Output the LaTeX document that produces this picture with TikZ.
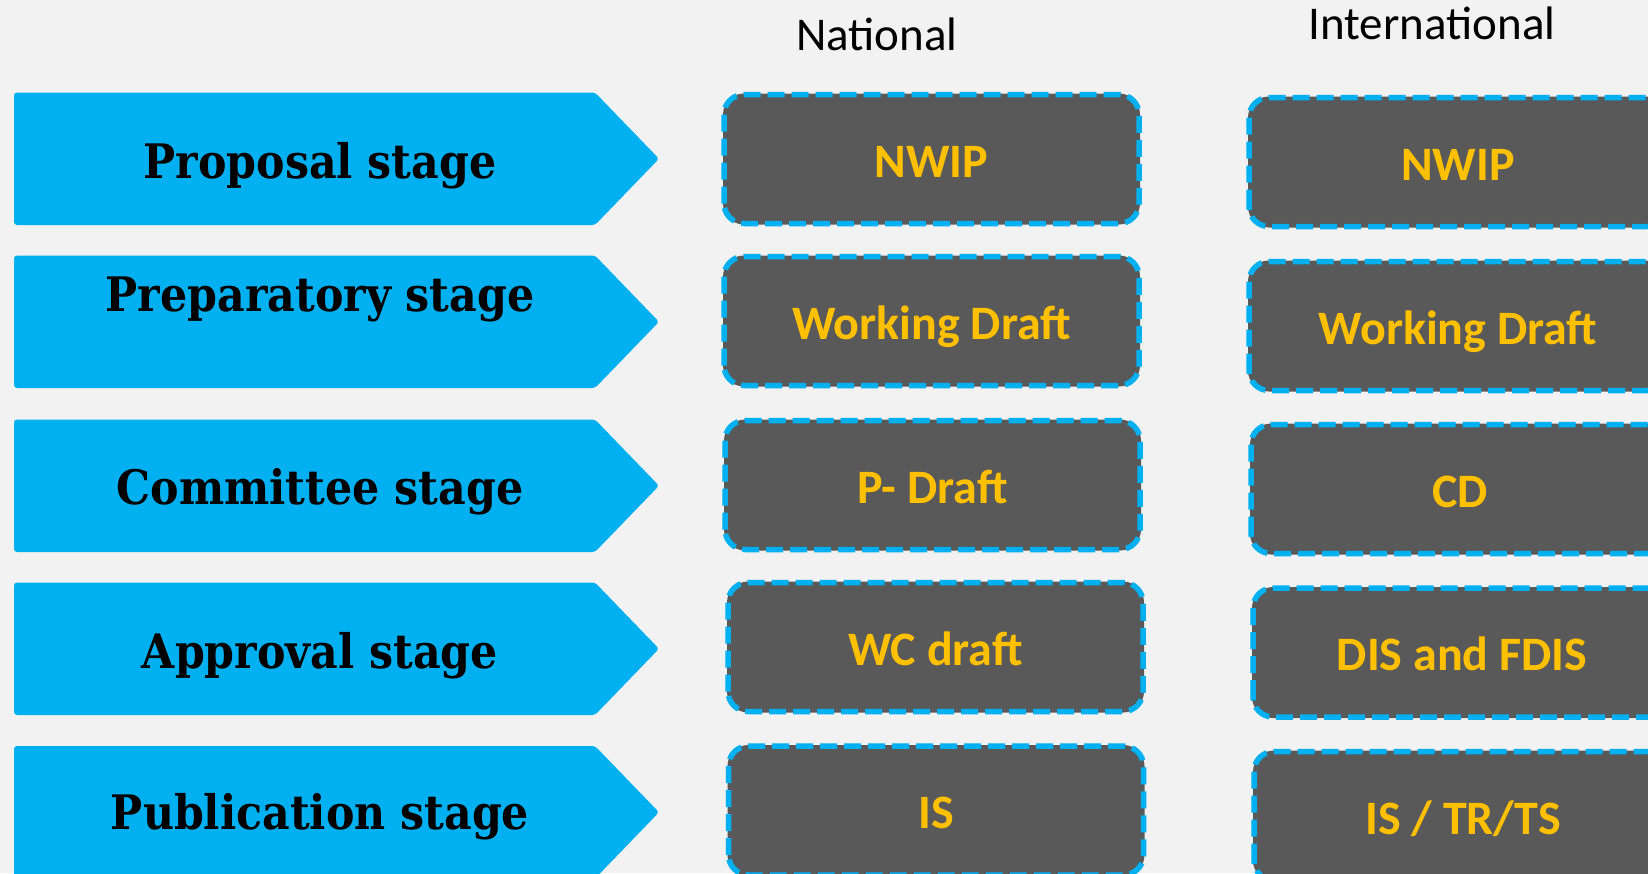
\documentclass[tikz,border=0pt]{standalone}
\usepackage{fontspec}
\newfontfamily\carlito{Carlito}
\newfontfamily\stagefont{DejaVu Serif Condensed}
\definecolor{bgcol}{HTML}{F2F2F2}
\definecolor{arrowblue}{HTML}{00B0F0}
\definecolor{boxgray}{HTML}{595959}
\definecolor{docyellow}{HTML}{FFC000}
\begin{document}
\begin{tikzpicture}[x=1pt,y=-1pt,
  stagearrow/.style={fill=arrowblue, rounded corners=3pt},
  stagetext/.style={font=\stagefont\bfseries\fontsize{47.5}{47.5}\selectfont, text height=34pt, text depth=0pt, inner sep=0pt},
  docbox/.style={rounded corners=20pt, fill=boxgray, draw=boxgray, line width=2pt,
    minimum width=415pt, minimum height=129pt, text=docyellow, outer sep=0pt,
    font=\carlito\fontsize{48}{48}\selectfont\bfseries, text height=36pt, text depth=0pt, inner sep=0pt},
  dashline/.style={draw=arrowblue, line width=5.5pt, dash pattern=on 17pt off 7pt, rounded corners=20pt},
  headtext/.style={font=\carlito\fontsize{47}{47}\selectfont, text height=30.5pt, text depth=0pt, inner sep=0pt}]
\fill[bgcol] (0,0) rectangle (1648,873);
\useasboundingbox (0,0) rectangle (1648,873);

% stage arrows
\foreach \t in {92.5,255.5,419.5,582.5,746}{
  \fill[stagearrow] (14,\t) -- (595,\t) -- (659,\t+66.25) -- (595,\t+132.5) -- (14,\t+132.5) -- cycle;
}
\node[stagetext] (s1) at (320,161) {Proposal stage};
\node[stagetext] (s2) at (320,294) {Preparatory stage};
\node[stagetext] (s3) at (320,487) {Committee stage};
\node[stagetext] (s4) at (320,651) {Approval stage};
\node[stagetext] (s5) at (320,812) {Publication stage};

% headers
\node[headtext] (hn) at (877,35) {National};
\node[headtext] (hi) at (1432,24) {International};

% national boxes
\node[docbox] (n1) at (931.5,159) {NWIP};
\node[docbox] (n2) at (931.5,321) {Working Draft};
\node[docbox] (n3) at (932.5,485) {P- Draft};
\node[docbox] (n4) at (935.5,647) {WC draft};
\node[docbox] (n5) at (936,810.5) {IS};

% international boxes
\node[docbox, minimum width=418pt] (i1) at (1458,162) {NWIP};
\node[docbox, minimum width=418pt] (i2) at (1458,326) {Working Draft};
\node[docbox, minimum width=418pt] (i3) at (1460,489) {CD};
\node[docbox, minimum width=418pt] (i4) at (1462,652.5) {DIS and FDIS};
\node[docbox, minimum width=418pt] (i5) at (1463,816) {IS / TR/TS};

% dashed outlines
\foreach \b in {n1,n2,n3,n4,n5,i1,i2,i3,i4,i5}{
  \draw[dashline] (\b.south west) rectangle (\b.north east);
}
\end{tikzpicture}
\end{document}
